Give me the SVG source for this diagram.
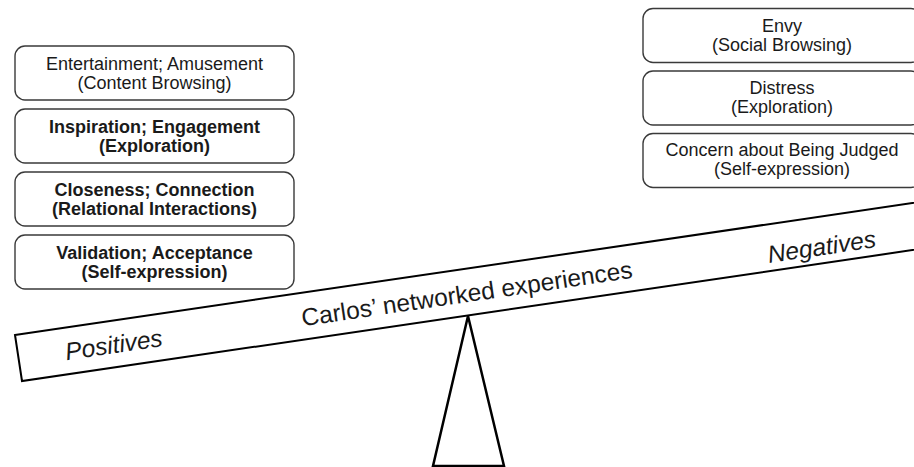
<svg xmlns="http://www.w3.org/2000/svg" width="914" height="467" viewBox="0 0 914 467">
<style>
.box{fill:#fff;stroke:#3a3a3a;stroke-width:1.4}
.t{font-family:"Liberation Sans",Arial,sans-serif;font-size:18px;fill:#1a1a1a;text-anchor:middle}
.b{font-weight:bold}
.beam{fill:#fff;stroke:#000;stroke-width:2}
.bt{font-family:"Liberation Sans",Arial,sans-serif;font-size:24.5px;fill:#1a1a1a;text-anchor:middle}
.i{font-style:italic}
</style>
<rect width="914" height="467" fill="#fff"/>
<g id="left-boxes">
<g id="pos1"><rect class="box" x="15" y="46" width="279" height="54" rx="10"/><text class="t" x="154.5" y="70">Entertainment; Amusement</text><text class="t" x="154.5" y="89">(Content Browsing)</text></g>
<g id="pos2"><rect class="box" x="15" y="109" width="279" height="54" rx="10"/><text class="t b" x="154.5" y="133">Inspiration; Engagement</text><text class="t b" x="154.5" y="152">(Exploration)</text></g>
<g id="pos3"><rect class="box" x="15" y="172" width="279" height="54" rx="10"/><text class="t b" x="154.5" y="196">Closeness; Connection</text><text class="t b" x="154.5" y="215">(Relational Interactions)</text></g>
<g id="pos4"><rect class="box" x="15" y="235" width="279" height="54" rx="10"/><text class="t b" x="154.5" y="259">Validation; Acceptance</text><text class="t b" x="154.5" y="278">(Self-expression)</text></g>
</g>
<g id="right-boxes">
<g id="neg1"><rect class="box" x="643" y="8.5" width="278" height="54" rx="10"/><text class="t" x="782" y="32">Envy</text><text class="t" x="782" y="51">(Social Browsing)</text></g>
<g id="neg2"><rect class="box" x="643" y="71" width="278" height="54" rx="10"/><text class="t" x="782" y="94">Distress</text><text class="t" x="782" y="113">(Exploration)</text></g>
<g id="neg3"><rect class="box" x="643" y="133.5" width="278" height="54" rx="10"/><text class="t" x="782" y="156">Concern about Being Judged</text><text class="t" x="782" y="175">(Self-expression)</text></g>
</g>
<g id="scale">
<polygon id="fulcrum" points="468,316 433,466 504,466" fill="#fff" stroke="#000" stroke-width="2.5" stroke-linejoin="miter"/>
<polygon id="beam" class="beam" points="15,335 940,199 947,245 22,381"/>
<text class="bt" x="468" y="302" transform="rotate(-8.36 468 302)">Carlos’ networked experiences</text>
<text class="bt i" x="115" y="353" transform="rotate(-8.36 115 353)">Positives</text>
<text class="bt i" x="823" y="255" transform="rotate(-8.36 823 255)">Negatives</text>
</g>
</svg>
